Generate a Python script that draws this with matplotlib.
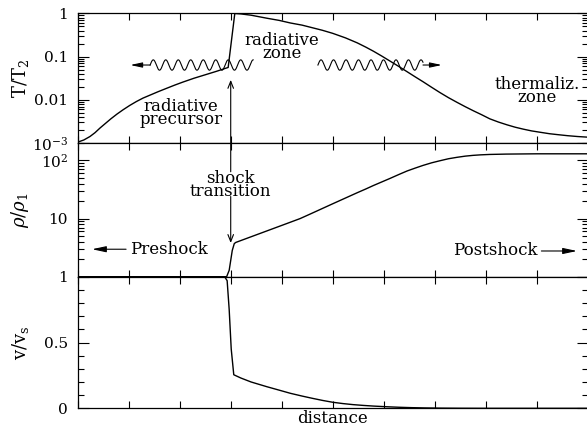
import numpy as np
import matplotlib
matplotlib.use('Agg')
import matplotlib.pyplot as plt
from matplotlib.ticker import FixedLocator, FixedFormatter, LogLocator, MultipleLocator, NullFormatter

plt.rcParams['font.family'] = ['DejaVu Serif']
plt.rcParams['mathtext.fontset'] = 'dejavuserif'

x_T = [0, 0.12, 0.24, 0.34, 0.44, 0.55, 0.65, 0.77, 0.89, 1.02, 1.15, 1.28, 1.42, 1.58,
       1.75, 1.9, 2.06, 2.28, 2.5, 2.72, 2.95,
       3.08, 3.2, 3.4, 3.71, 3.95, 4.17, 4.4, 4.6, 4.8, 5.0, 5.25, 5.48, 5.65, 5.8, 5.96,
       6.12, 6.3, 6.46, 6.62, 6.77, 6.94, 7.1, 7.27, 7.44, 7.6, 7.76, 7.92, 8.08, 8.25,
       8.42, 8.58, 8.74, 8.9, 9.06, 9.25, 9.4, 9.6, 9.8, 10]
logT = [-2.98, -2.93, -2.85, -2.76, -2.65, -2.54, -2.44, -2.33, -2.23, -2.13, -2.04,
        -1.96, -1.89, -1.81, -1.73, -1.66, -1.59, -1.50, -1.42, -1.34, -1.25,
        0.0, -0.01, -0.04, -0.11, -0.16, -0.22, -0.27, -0.33, -0.39, -0.46, -0.565, -0.68,
        -0.78, -0.875, -0.985, -1.10, -1.23, -1.35, -1.47, -1.58, -1.71, -1.83, -1.95,
        -2.06, -2.16, -2.255, -2.345, -2.44, -2.515, -2.58, -2.635, -2.68, -2.72, -2.75,
        -2.785, -2.805, -2.83, -2.85, -2.865]

# density rho/rho1, log10 values
x_rho = [0, 2.92, 2.97, 3.03, 3.07, 3.1, 3.3, 3.5, 3.7, 3.9, 4.1, 4.36, 4.55, 4.75,
         5.0, 5.24, 5.48, 5.65, 5.8, 5.96, 6.12, 6.3, 6.46, 6.62, 6.77, 6.94, 7.1,
         7.27, 7.44, 7.6, 7.75, 7.9, 8.08, 8.4, 9.0, 10]
logrho = [0, 0, 0.11, 0.45, 0.57, 0.59, 0.655, 0.72, 0.785, 0.85, 0.915, 1.0, 1.075,
          1.155, 1.255, 1.35, 1.445, 1.51, 1.57, 1.63, 1.69, 1.76, 1.82, 1.87, 1.915,
          1.96, 1.995, 2.03, 2.055, 2.075, 2.088, 2.097, 2.104, 2.11, 2.115, 2.115]

# velocity v/vs
x_v = [0, 2.88, 2.93, 2.97, 3.01, 3.06, 3.2, 3.4, 3.71, 3.95, 4.17, 4.4, 4.6, 4.8,
       5.0, 5.2, 5.4, 5.6, 5.8, 6.05, 6.3, 6.55, 6.8, 7.1, 7.5, 8.0, 10]
v = [1, 1, 0.97, 0.75, 0.45, 0.255, 0.23, 0.2, 0.164, 0.138, 0.114, 0.093, 0.076,
     0.06, 0.046, 0.036, 0.028, 0.022, 0.017, 0.012, 0.008, 0.005, 0.003, 0.0015,
     0.0005, 0.0, 0.0]

fig = plt.figure(figsize=(5.87, 4.28), dpi=100)
L, W = 0.1324, 0.8688
ax1 = fig.add_axes([L, 0.6659, W, 0.3026])
ax2 = fig.add_axes([L, 0.3535, W, 0.3124])
ax3 = fig.add_axes([L, 0.046, W, 0.3075])

for ax in (ax1, ax2, ax3):
    ax.set_xlim(0, 10)
    ax.xaxis.set_major_locator(MultipleLocator(1))
    ax.tick_params(axis='both', which='both', direction='in', top=True, right=True,
                   labelbottom=False, labelsize=11, width=0.8)
    ax.tick_params(axis='x', which='major', length=5)
    ax.tick_params(axis='y', which='major', length=8, pad=7)
    ax.tick_params(axis='y', which='minor', length=4)
    for s in ax.spines.values():
        s.set_linewidth(0.9)

# top panel
ax1.plot(x_T, 10 ** np.array(logT), color='k', lw=1)
ax1.set_yscale('log')
ax1.set_ylim(1e-3, 1)
ax1.yaxis.set_major_locator(FixedLocator([1e-3, 1e-2, 1e-1, 1]))
ax1.yaxis.set_major_formatter(FixedFormatter(['10$^{-3}$', '0.01', '0.1', '1']))
ax1.yaxis.set_minor_locator(LogLocator(base=10, subs=np.arange(2, 10)))
ax1.yaxis.set_minor_formatter(NullFormatter())
ax1.set_ylabel('T/T$_2$', fontsize=13)

# middle panel
ax2.plot(x_rho, 10 ** np.array(logrho), color='k', lw=1)
ax2.set_yscale('log')
ax2.set_ylim(1, 200)
ax2.yaxis.set_major_locator(FixedLocator([1, 10, 100]))
ax2.yaxis.set_major_formatter(FixedFormatter(['', '10', '10$^2$']))
ax2.yaxis.set_minor_locator(LogLocator(base=10, subs=np.arange(2, 10)))
ax2.yaxis.set_minor_formatter(NullFormatter())
ax2.set_ylabel(r'$\rho/\rho_1$', fontsize=13)

# bottom panel
ax3.plot(x_v, v, color='k', lw=1)
ax3.set_ylim(0, 1)
ax3.yaxis.set_major_locator(FixedLocator([0, 0.5, 1]))
ax3.yaxis.set_major_formatter(FixedFormatter(['0', '0.5', '1']))
ax3.yaxis.set_minor_locator(MultipleLocator(0.1))
ax3.set_ylabel(r'v/v$_\mathrm{s}$', fontsize=13)
ax3.set_xlabel('distance', fontsize=12, labelpad=1)

for ax in (ax1, ax2, ax3):
    ax.yaxis.set_label_coords(-0.092, 0.5)

txt = dict(fontsize=12, ha='center', va='center', linespacing=0.72)
ax1.text(4.0, 0.168, 'radiative\nzone', **txt)
ax1.text(2.03, 0.005, 'radiative\nprecursor', **txt)
ax1.text(9.0, 0.016, 'thermaliz.\nzone', **txt)


def wavy(ax, x0, x1, tip, level, amp=0.12, wl=0.245):
    xs = np.linspace(x0, x1, 400)
    ys = 10 ** (np.log10(level) + amp * np.sin(2 * np.pi * (xs - x0) / wl))
    ax.plot(xs, ys, color='k', lw=0.8)
    start = x0 if tip < x0 else x1
    ax.annotate('', xy=(tip, level), xytext=(start, level),
                arrowprops=dict(arrowstyle='-|>,head_length=0.7,head_width=0.15',
                                color='k', lw=0.8, shrinkA=0, shrinkB=0))


wavy(ax1, 1.42, 3.44, 1.03, 0.064)
wavy(ax1, 4.71, 6.77, 7.14, 0.064)

# shock transition with double arrow
ax2.text(3.0, 38, 'shock\ntransition', **txt)
arr = dict(arrowstyle='->,head_length=0.5,head_width=0.2', color='k', lw=0.8,
           shrinkA=0, shrinkB=0)
ax2.annotate('', xy=(3.0, 0.029), xycoords=ax1.transData, xytext=(3.0, 64),
             textcoords='data', arrowprops=arr, annotation_clip=False)
ax2.annotate('', xy=(3.0, 3.8), xytext=(3.0, 24), arrowprops=arr)

harr = dict(arrowstyle='-|>,head_length=0.7,head_width=0.15', color='k', lw=0.8,
            shrinkA=1, shrinkB=0)
ax2.annotate('Preshock', xy=(0.28, 2.97), xytext=(1.03, 2.97), fontsize=12,
             ha='left', va='center', arrowprops=harr)
ax2.annotate('Postshock', xy=(9.79, 2.77), xytext=(9.01, 2.77), fontsize=12,
             ha='right', va='center', arrowprops=harr)

fig.savefig('out.png', dpi=100)
